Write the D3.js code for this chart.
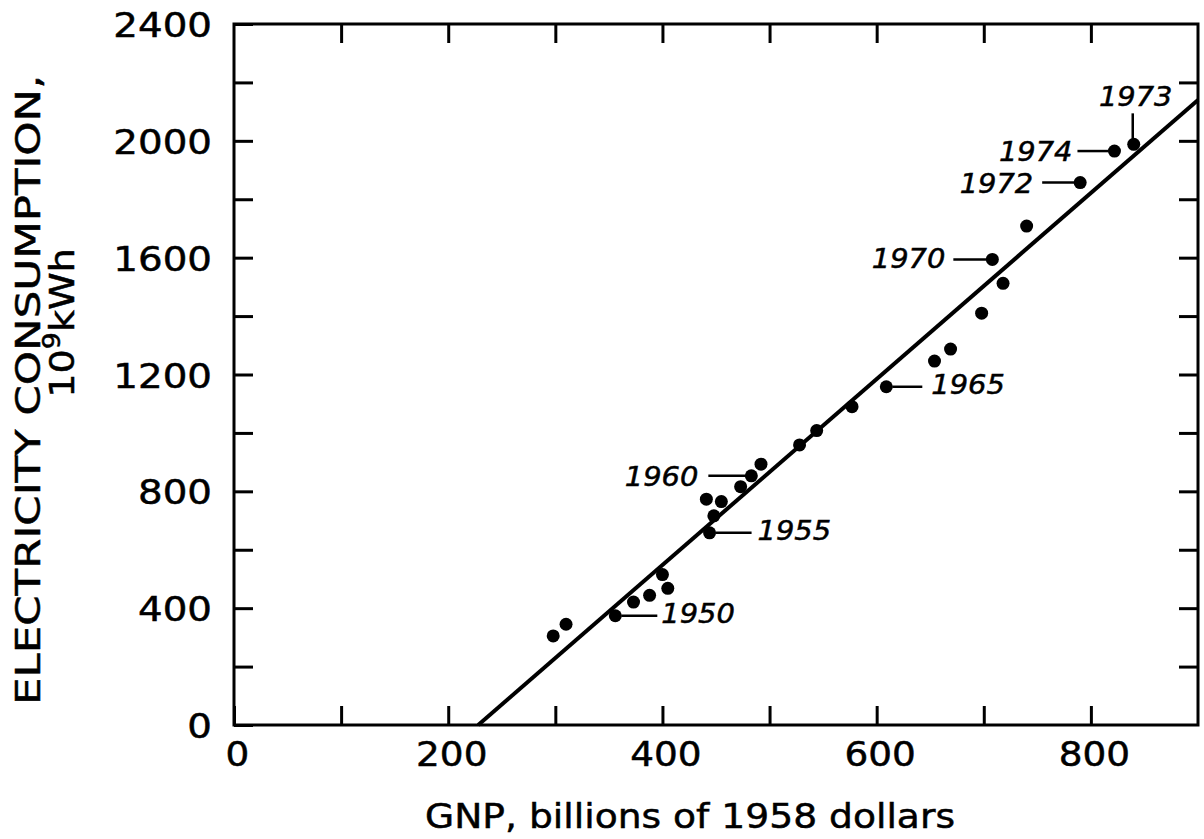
<!DOCTYPE html>
<html>
<head>
<meta charset="utf-8">
<script src="https://cdn.jsdelivr.net/npm/d3@7"></script>
<style>
  body { margin: 0; background: #fff; }
  svg { display: block; }
  text { stroke: #000; stroke-width: 0.5px; }
</style>
</head>
<body>
<svg id="chart" width="1204" height="839"></svg>
<script>
// Annual US GNP (billions of 1958 dollars) against electricity consumption (10^9 kWh)
const years = d3.range(1948, 1975);
const gnp = [298, 310, 356, 373, 388, 405, 400, 444, 448, 455, 441, 473, 483, 492,
             528, 544, 577, 609, 654, 669, 698, 718, 708, 740, 790, 840, 822];
const kwh = [305, 345, 374, 421, 444, 468, 515, 658, 716, 765, 773, 816, 853, 893,
             959, 1008, 1090, 1158, 1246, 1287, 1410, 1512, 1594, 1708, 1857, 1988, 1965];

// Straight-line fit drawn through the scatter
const fitGnp = [228, 900];
const fitKwh = [0, 2140];

// Axis ticks and labels
const xTicks = d3.range(0, 900, 100);
const xTickLabels = [0, 200, 400, 600, 800];
const yTicks = d3.range(0, 2400, 200);
const yTickLabels = [0, 400, 800, 1200, 1600, 2000, 2400];

// Years that carry a callout
const labeledYears = [1950, 1955, 1960, 1965, 1970, 1972, 1973, 1974];

// Callout placement relative to the dot: leader start/end offsets and text anchor
const calloutLayout = {
  1950: { side: "right", lead: [6, 42], tx: 46, ty: 7 },
  1955: { side: "right", lead: [6, 42], tx: 48, ty: 7 },
  1960: { side: "left",  lead: [-4, -43], tx: -53, ty: 10 },
  1965: { side: "right", lead: [6, 36], tx: 45, ty: 7 },
  1970: { side: "left",  lead: [-6, -39], tx: -47, ty: 9 },
  1972: { side: "left",  lead: [-6, -38], tx: -47, ty: 10 },
  1973: { side: "up",    lead: [-6, -31], tx: 2, ty: -38 },
  1974: { side: "left",  lead: [-6, -37], tx: -42, ty: 10 }
};

const FONT = "'DejaVu Sans', 'Noto Sans', sans-serif";
const svg = d3.select("#chart");

const plotLeft = 234, plotRight = 1198, plotTop = 24, plotBottom = 725;
const x = d3.scaleLinear().domain([0, 900]).range([plotLeft, plotRight]);
const y = d3.scaleLinear().domain([0, 2400]).range([plotBottom, plotTop]);

const tickLen = 19;

// Stretch text horizontally to the wide lettering of the figure
function widen(sel, factor) {
  sel.each(function () {
    const w = this.getComputedTextLength();
    if (w > 0) {
      d3.select(this).attr("textLength", w * factor).attr("lengthAdjust", "spacingAndGlyphs");
    }
  });
}

function styleAxis(g) {
  g.select(".domain").remove();
  g.selectAll(".tick line").attr("stroke", "#000").attr("stroke-width", 3);
  g.selectAll(".tick text")
    .attr("fill", "#000")
    .attr("font-family", FONT)
    .attr("font-size", 34);
}

// Bottom axis: inward ticks with labels every 200
svg.append("g")
  .attr("transform", `translate(0,${plotBottom})`)
  .call(d3.axisBottom(x).tickValues(xTicks)
    .tickSizeInner(-tickLen).tickSizeOuter(0).tickPadding(17)
    .tickFormat(d => xTickLabels.includes(d) ? d : ""))
  .call(styleAxis)
  .call(g => g.selectAll(".tick text").attr("dx", 3).call(widen, 1.1));

// Top axis: inward ticks only
svg.append("g")
  .attr("transform", `translate(0,${plotTop})`)
  .call(d3.axisTop(x).tickValues(xTicks.slice(1))
    .tickSizeInner(-tickLen).tickSizeOuter(0).tickFormat(""))
  .call(styleAxis);

// Left axis: inward ticks with labels every 400
svg.append("g")
  .attr("transform", `translate(${plotLeft},0)`)
  .call(d3.axisLeft(y).tickValues(yTicks.concat([2400]))
    .tickSizeInner(-tickLen).tickSizeOuter(0).tickPadding(22)
    .tickFormat(d => yTickLabels.includes(d) ? d : ""))
  .call(styleAxis)
  .call(g => g.selectAll(".tick text").attr("dy", "0.37em").call(widen, 1.14));

// Right axis: inward ticks only
svg.append("g")
  .attr("transform", `translate(${plotRight},0)`)
  .call(d3.axisRight(y).tickValues(yTicks.slice(1))
    .tickSizeInner(-tickLen).tickSizeOuter(0).tickFormat(""))
  .call(styleAxis);

// Plot frame
svg.append("rect")
  .attr("x", x(0)).attr("y", y(2400))
  .attr("width", x(900) - x(0)).attr("height", y(0) - y(2400))
  .attr("fill", "none").attr("stroke", "#000").attr("stroke-width", 3);

// Fitted line
svg.append("path")
  .datum(d3.zip(fitGnp, fitKwh))
  .attr("d", d3.line().x(d => x(d[0])).y(d => y(d[1])))
  .attr("fill", "none").attr("stroke", "#000").attr("stroke-width", 4);

// Data points
const points = years.map((yr, i) => ({ year: yr, gnp: gnp[i], kwh: kwh[i] }));
svg.append("g").selectAll("circle")
  .data(points)
  .join("circle")
  .attr("cx", d => x(d.gnp))
  .attr("cy", d => y(d.kwh))
  .attr("r", 6.5)
  .attr("fill", "#000");

// Year callouts
const callouts = svg.append("g");
points.filter(d => labeledYears.includes(d.year)).forEach(d => {
  const L = calloutLayout[d.year];
  const cx = x(d.gnp), cy = y(d.kwh);
  let t;
  if (L.side === "up") {
    callouts.append("line")
      .attr("x1", cx - 1).attr("x2", cx - 1)
      .attr("y1", cy + L.lead[0]).attr("y2", cy + L.lead[1])
      .attr("stroke", "#000").attr("stroke-width", 2.5);
    t = callouts.append("text")
      .attr("x", cx + L.tx).attr("y", cy + L.ty)
      .attr("text-anchor", "middle");
  } else {
    callouts.append("line")
      .attr("x1", cx + L.lead[0]).attr("x2", cx + L.lead[1])
      .attr("y1", cy).attr("y2", cy)
      .attr("stroke", "#000").attr("stroke-width", 2.5);
    t = callouts.append("text")
      .attr("x", cx + L.tx).attr("y", cy + L.ty)
      .attr("text-anchor", L.side === "right" ? "start" : "end");
  }
  t.attr("font-family", FONT).attr("font-style", "italic").attr("font-size", 27)
    .text(d.year)
    .call(widen, 1.07);
});

// Axis titles
svg.append("text")
  .attr("x", 690).attr("y", 828)
  .attr("text-anchor", "middle")
  .attr("font-family", FONT).attr("font-size", 34)
  .attr("textLength", 530).attr("lengthAdjust", "spacingAndGlyphs")
  .text("GNP,  billions of 1958 dollars");

svg.append("text")
  .attr("transform", "translate(40,390) rotate(-90)")
  .attr("text-anchor", "middle")
  .attr("font-family", FONT).attr("font-size", 34)
  .attr("textLength", 630).attr("lengthAdjust", "spacingAndGlyphs")
  .text("ELECTRICITY  CONSUMPTION,");

const unit = svg.append("text")
  .attr("transform", "translate(74,323) rotate(-90) scale(1.12,1)")
  .attr("text-anchor", "middle")
  .attr("font-family", FONT).attr("font-size", 34);
unit.append("tspan").text("10");
unit.append("tspan").attr("font-size", 24).attr("dy", -14).text("9");
unit.append("tspan").attr("dy", 14).text("kWh");
</script>
</body>
</html>
